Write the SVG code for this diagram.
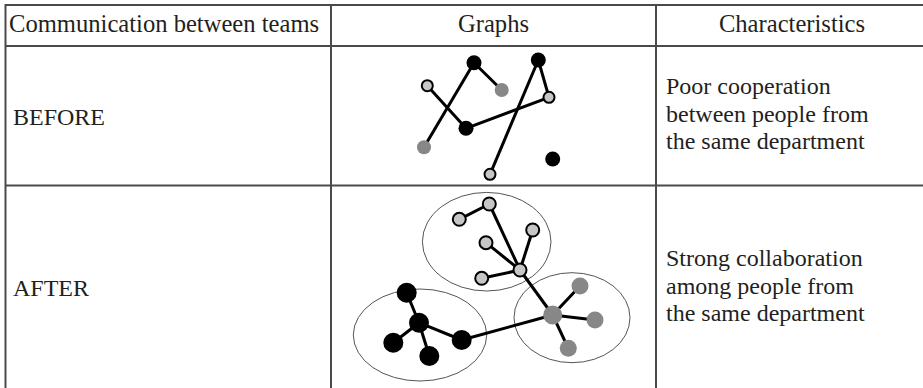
<svg xmlns="http://www.w3.org/2000/svg" width="923" height="388" viewBox="0 0 923 388">
<style>
.t{font-family:"Liberation Serif","Times New Roman",serif;font-size:24px;fill:#231f20}
.h{font-size:24.6px}
.c{text-anchor:middle}
.grid{stroke:#4a4a4a;stroke-width:2;fill:none}
.e{stroke:#000;stroke-width:3;fill:none}
.blk{fill:#000}
.dg{fill:#878787}
.lg{fill:#c6c6c6;stroke:#000;stroke-width:2}
.ell{fill:none;stroke:#555;stroke-width:1}
</style>
<rect width="923" height="388" fill="#fff"/>
<g id="table" class="grid">
<line x1="5" y1="5" x2="923" y2="5"/>
<line x1="5" y1="46" x2="923" y2="46"/>
<line x1="5" y1="185.5" x2="923" y2="185.5"/>
<line x1="5.5" y1="4" x2="5.5" y2="388"/>
<line x1="331" y1="5" x2="331" y2="388"/>
<line x1="656" y1="5" x2="656" y2="388"/>
</g>
<g id="headers">
<text class="t h" x="9" y="32">Communication between teams</text>
<text class="t h c" x="493.5" y="32">Graphs</text>
<text class="t h c" x="792" y="32">Characteristics</text>
</g>
<g id="row-before">
<text class="t" x="13" y="125">BEFORE</text>
<text class="t" x="666" y="94">Poor cooperation</text>
<text class="t" x="666" y="122">between people from</text>
<text class="t" x="666" y="149">the same department</text>
</g>
<g id="row-after">
<text class="t" x="13" y="296">AFTER</text>
<text class="t" x="666" y="266">Strong collaboration</text>
<text class="t" x="666" y="294">among people from</text>
<text class="t" x="666" y="321">the same department</text>
</g>
<g id="clusters">
<ellipse class="ell" cx="486.7" cy="241.7" rx="64.3" ry="49.3"/>
<ellipse class="ell" cx="420" cy="335" rx="66.7" ry="46"/>
<ellipse class="ell" cx="572" cy="317.7" rx="58" ry="45"/>
</g>
<g id="connectors" class="e">
<line x1="474" y1="62.7" x2="424" y2="147.3"/>
<line x1="474" y1="62.7" x2="501.7" y2="90"/>
<line x1="427.3" y1="85.7" x2="466" y2="128.3"/>
<line x1="466" y1="128.3" x2="549" y2="97.3"/>
<line x1="538.3" y1="60" x2="549" y2="97.3"/>
<line x1="538.3" y1="60" x2="490" y2="174.3"/>
<line x1="459.3" y1="219.3" x2="489.3" y2="204"/>
<line x1="489.3" y1="204" x2="520" y2="270"/>
<line x1="532.7" y1="230" x2="520" y2="270"/>
<line x1="486" y1="242.7" x2="520" y2="270"/>
<line x1="481.7" y1="278.3" x2="520" y2="270"/>
<line x1="520" y1="270" x2="552.7" y2="315"/>
<line x1="552.7" y1="315" x2="580" y2="286"/>
<line x1="552.7" y1="315" x2="595" y2="320"/>
<line x1="552.7" y1="315" x2="568.3" y2="348.3"/>
<line x1="552.7" y1="315" x2="461.7" y2="340"/>
<line x1="406.7" y1="292.7" x2="419" y2="322.7"/>
<line x1="419" y1="322.7" x2="393.3" y2="342.7"/>
<line x1="419" y1="322.7" x2="429.3" y2="356"/>
<line x1="419" y1="322.7" x2="461.7" y2="340"/>
</g>
<g id="before-nodes">
<circle id="b1" class="blk" cx="474" cy="62.7" r="7.5"/>
<circle id="b2" class="dg" cx="501.7" cy="90" r="7"/>
<circle id="b3" class="lg" cx="427.3" cy="85.7" r="5.5"/>
<circle id="b4" class="blk" cx="466" cy="128.3" r="7.5"/>
<circle id="b5" class="dg" cx="424" cy="147.3" r="7"/>
<circle id="b6" class="blk" cx="538.3" cy="60" r="7.5"/>
<circle id="b7" class="lg" cx="549" cy="97.3" r="5.5"/>
<circle id="b8" class="lg" cx="490" cy="174.3" r="5.5"/>
<circle id="b9" class="blk" cx="552.7" cy="159" r="7.5"/>
</g>
<g id="after-nodes">
<circle id="a1" class="lg" cx="459.3" cy="219.3" r="6.5"/>
<circle id="a2" class="lg" cx="489.3" cy="204" r="6.5"/>
<circle id="a3" class="lg" cx="532.7" cy="230" r="6.5"/>
<circle id="a4" class="lg" cx="486" cy="242.7" r="6.5"/>
<circle id="a5" class="lg" cx="481.7" cy="278.3" r="6.5"/>
<circle id="a6" class="lg" cx="520" cy="270" r="6.5"/>
<circle id="a7" class="dg" cx="552.7" cy="315" r="9.5"/>
<circle id="a8" class="dg" cx="580" cy="286" r="8.5"/>
<circle id="a9" class="dg" cx="595" cy="320" r="8.5"/>
<circle id="a10" class="dg" cx="568.3" cy="348.3" r="8.5"/>
<circle id="a11" class="blk" cx="461.7" cy="340" r="10"/>
<circle id="a12" class="blk" cx="419" cy="322.7" r="10"/>
<circle id="a13" class="blk" cx="406.7" cy="292.7" r="10"/>
<circle id="a14" class="blk" cx="393.3" cy="342.7" r="10"/>
<circle id="a15" class="blk" cx="429.3" cy="356" r="10"/>
</g>
</svg>
